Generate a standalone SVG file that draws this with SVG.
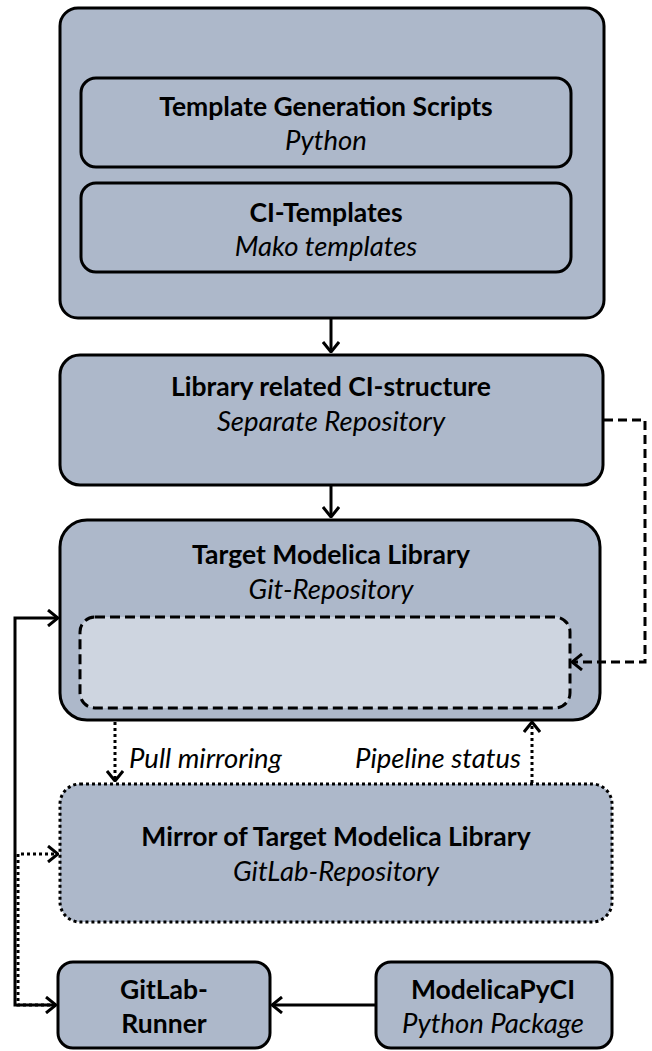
<svg xmlns="http://www.w3.org/2000/svg" width="652" height="1051" viewBox="0 0 652 1051">
<defs>
<style>
.box{fill:#adb8ca;stroke:#000;stroke-width:3}
.inner{fill:#ced5e0;stroke:#000;stroke-width:3;stroke-dasharray:10 5}
.dotbox{fill:#adb8ca;stroke:#000;stroke-width:3;stroke-dasharray:3 3}
.b{font-family:Lato,"Liberation Sans",sans-serif;font-weight:bold;font-size:26.5px;text-anchor:middle;fill:#000}
.i{font-family:Lato,"Liberation Sans",sans-serif;font-style:italic;font-size:27.5px;text-anchor:middle;fill:#000}
.lab{font-family:Lato,"Liberation Sans",sans-serif;font-style:italic;font-size:27.5px;fill:#000}
.c{fill:none;stroke:#000;stroke-width:3}
.dash{stroke-dasharray:9 5}
.dot{stroke-dasharray:3 3}
</style>
<marker id="ah" viewBox="0 0 12 18" refX="11" refY="9" markerWidth="12" markerHeight="18" markerUnits="userSpaceOnUse" orient="auto-start-reverse">
<path d="M1,1 L11,9 L1,17" fill="none" stroke="#000" stroke-width="3"/>
</marker>
</defs>
<g id="node-ci-generator">
<rect class="box" x="60" y="8" width="544" height="310" rx="18"/>
</g>
<g id="node-template-scripts">
<rect class="box" x="81" y="78" width="490" height="89" rx="15"/>
<text class="b" x="326" y="116">Template Generation Scripts</text>
<text class="i" x="326" y="150">Python</text>
</g>
<g id="node-ci-templates">
<rect class="box" x="81" y="183" width="490" height="89" rx="15"/>
<text class="b" x="326" y="222">CI-Templates</text>
<text class="i" x="326" y="256">Mako templates</text>
</g>
<g id="node-library-ci">
<rect class="box" x="60" y="355" width="543" height="130" rx="20"/>
<text class="b" x="331" y="396">Library related CI-structure</text>
<text class="i" x="331" y="431">Separate Repository</text>
</g>
<g id="node-target">
<rect class="box" x="60" y="520" width="540" height="200" rx="27"/>
<text class="b" x="331" y="564">Target Modelica Library</text>
<text class="i" x="331" y="599">Git-Repository</text>
<rect class="inner" x="80" y="617" width="490" height="91" rx="15"/>
</g>
<g id="node-mirror">
<rect class="dotbox" x="60" y="784" width="552" height="138" rx="20"/>
<text class="b" x="336" y="846">Mirror of Target Modelica Library</text>
<text class="i" x="336" y="881">GitLab-Repository</text>
</g>
<g id="node-runner">
<rect class="box" x="58" y="962" width="212" height="86" rx="15"/>
<text class="b" x="164" y="999">GitLab-</text>
<text class="b" x="164" y="1033">Runner</text>
</g>
<g id="node-modelicapyci">
<rect class="box" x="376" y="962" width="236" height="86" rx="15"/>
<text class="b" x="493" y="999">ModelicaPyCI</text>
<text class="i" x="493" y="1033">Python Package</text>
</g>
<g id="connectors">
<path class="c" d="M331 319 V352" marker-end="url(#ah)"/>
<path class="c" d="M331 486 V517" marker-end="url(#ah)"/>
<path class="c dash" d="M604 420 H645 V662 H572" marker-end="url(#ah)"/>
<path class="c dot" d="M115 722 V781" marker-end="url(#ah)"/>
<path class="c dot" d="M532 783 V722" marker-end="url(#ah)"/>
<path class="c dot" d="M56 1005 H18 V854 H58" marker-end="url(#ah)"/>
<path class="c" d="M58 618 H15 V1005 H56" marker-start="url(#ah)" marker-end="url(#ah)"/>
<path class="c" d="M375 1005 H272" marker-end="url(#ah)"/>
<text class="lab" x="129" y="768">Pull mirroring</text>
<text class="lab" x="521" y="768" text-anchor="end">Pipeline status</text>
</g>
</svg>
